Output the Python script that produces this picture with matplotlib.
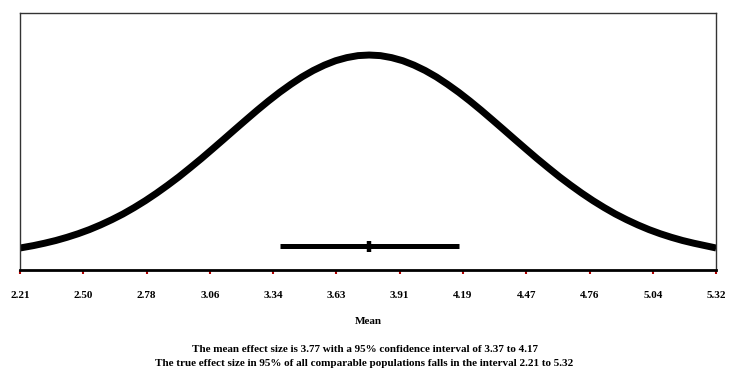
import numpy as np
import matplotlib.pyplot as plt

# curve (height above the axis, arbitrary units)
curve_x = [2.21, 2.27, 2.32, 2.37, 2.42, 2.47, 2.52, 2.57, 2.62, 2.67, 2.72,
           2.77, 2.82, 2.87, 2.92, 2.97, 3.02, 3.07, 3.12, 3.17, 3.22, 3.27,
           3.32, 3.37, 3.42, 3.47, 3.52, 3.57, 3.62, 3.67, 3.72, 3.77,
           3.82, 3.87, 3.92, 3.97, 4.02, 4.07, 4.12, 4.17, 4.22, 4.27, 4.32,
           4.37, 4.42, 4.47, 4.52, 4.57, 4.62, 4.67, 4.72, 4.77, 4.82, 4.87,
           4.92, 4.97, 5.02, 5.07, 5.12, 5.17, 5.22, 5.27, 5.32]
curve_y = [22.0, 24.4, 26.8, 29.5, 32.7, 36.3, 40.4, 45.1, 50.3, 56.0, 62.4,
           69.3, 76.8, 84.8, 93.2, 102.2, 111.4, 121.0, 130.7, 140.5, 150.2, 159.8,
           169.0, 177.7, 185.7, 193.1, 199.5, 204.9, 209.3, 212.4, 214.4, 215.0,
           214.4, 212.4, 209.3, 204.9, 199.5, 193.1, 185.7, 177.7, 169.0, 159.8, 150.2,
           140.5, 130.7, 121.0, 111.4, 102.2, 93.2, 84.8, 76.8, 69.3, 62.4, 56.0,
           50.3, 45.1, 40.4, 36.3, 32.7, 29.5, 26.8, 24.4, 22.0]

mean = 3.77
ci_low, ci_high = 3.37, 4.17
pi_low, pi_high = 2.21, 5.32
ci_y = 24

tick_labels = ['2.21', '2.50', '2.78', '3.06', '3.34', '3.63',
               '3.91', '4.19', '4.47', '4.76', '5.04', '5.32']

plt.rcParams['font.family'] = ['Liberation Serif', 'DejaVu Serif']
plt.rcParams['font.weight'] = 'bold'

fig = plt.figure(figsize=(7.29, 3.83), dpi=100)
ax = fig.add_axes([0.0274, 0.295, 0.955, 0.671])

ax.plot(curve_x, curve_y, color='black', linewidth=5, solid_capstyle='butt',
        solid_joinstyle='round')
ax.plot([ci_low, ci_high], [ci_y, ci_y], color='black', linewidth=3.6,
        solid_capstyle='butt')
ax.plot([mean, mean], [ci_y - 5.5, ci_y + 5.5], color='black', linewidth=3.2,
        solid_capstyle='butt')

ax.set_xlim(pi_low, pi_high)
ax.set_ylim(0, 257)
ticks = np.linspace(pi_low, pi_high, len(tick_labels))
ax.set_xticks(ticks)
ax.set_xticklabels(tick_labels, fontsize=8, fontweight='bold')
ax.tick_params(axis='x', direction='out', length=3, width=1.5,
               color='#b00000', pad=12)
ax.set_yticks([])

for side in ['top', 'left', 'right']:
    ax.spines[side].set_color('#333333')
    ax.spines[side].set_linewidth(1.0)
ax.spines['bottom'].set_color('black')
ax.spines['bottom'].set_linewidth(2)

ax.set_xlabel('Mean', fontsize=8, fontweight='bold', labelpad=12)

fig.text(0.5, 1 - 350 / 383, 'The mean effect size is 3.77 with a 95% confidence interval of 3.37 to 4.17',
         ha='center', va='center', fontsize=8, fontweight='bold')
fig.text(0.5, 1 - 364 / 383, 'The true effect size in 95% of all comparable populations falls in the interval 2.21 to 5.32',
         ha='center', va='center', fontsize=8, fontweight='bold')

plt.savefig('out.png', dpi=100)
